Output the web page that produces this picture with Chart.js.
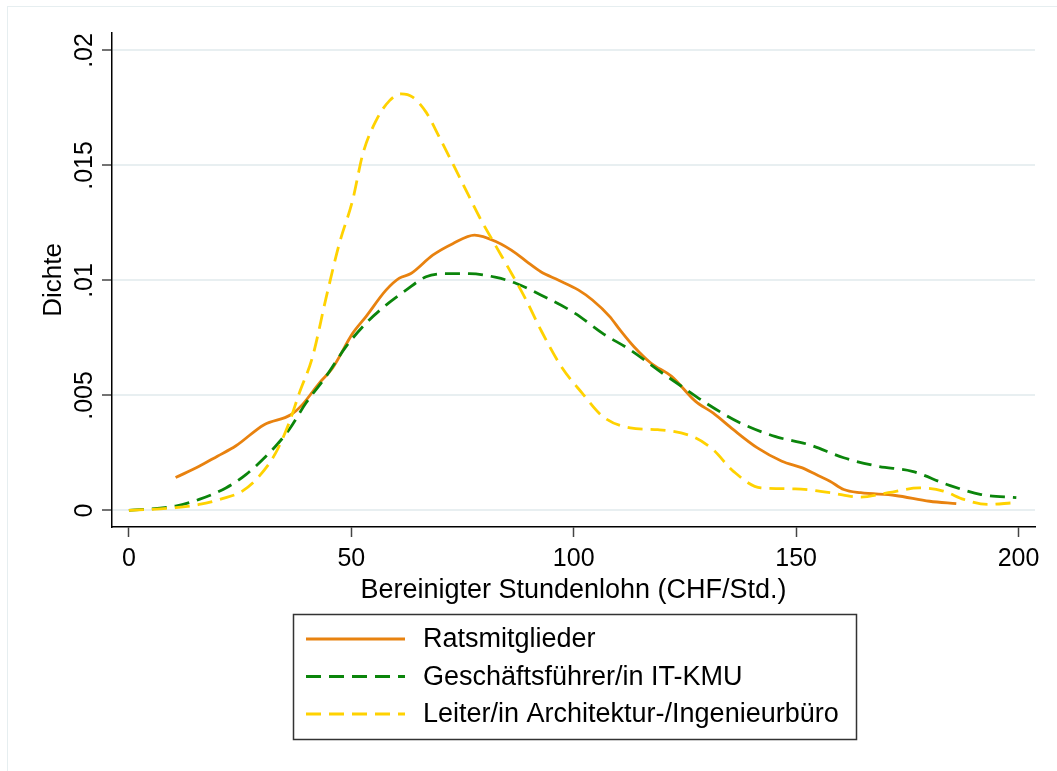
<!DOCTYPE html>
<html>
<head>
<meta charset="utf-8">
<script src="https://cdn.jsdelivr.net/npm/chart.js@4/dist/chart.umd.min.js"></script>
<style>
  html, body { margin: 0; padding: 0; background: #fff; }
  canvas { display: block; }
</style>
</head>
<body>
<canvas id="densityChart" width="1057" height="771"></canvas>
<script>
// Kernel density curves
const seriesNames = ['Ratsmitglieder', 'Geschäftsführer/in IT-KMU', 'Leiter/in Architektur-/Ingenieurbüro'];

const ratsX = [10.5, 15.8, 19.9, 24, 30.4, 36.4, 39, 42.8, 45.8, 50.3, 53.3, 57.8, 60.8, 63.4, 68.3, 72.8, 77.7, 82.6, 87.1, 89.5, 92.6, 96.5, 101.1, 104.2, 108.1, 110.4, 113.5, 117.4, 122, 127.4, 131.3, 135.9, 141.3, 146.8, 151.4, 154.5, 157.6, 160.7, 164.5, 172.3, 180, 186];
const ratsY = [0.00143, 0.00192, 0.00236, 0.0028, 0.00373, 0.00416, 0.0046, 0.00554, 0.0062, 0.0077, 0.00843, 0.00958, 0.0101, 0.0103, 0.0111, 0.0116, 0.01197, 0.01168, 0.01117, 0.01081, 0.01038, 0.01002, 0.00958, 0.00915, 0.00843, 0.00785, 0.00713, 0.0064, 0.00583, 0.00474, 0.00424, 0.00351, 0.00272, 0.00214, 0.00185, 0.00156, 0.00127, 0.00091, 0.00077, 0.00065, 0.0004, 0.0003];

const itX = [0, 10.5, 15.8, 21.8, 26.3, 32.3, 36, 39.8, 44.3, 48.8, 53.3, 57.8, 62.3, 66.8, 71.3, 76.6, 82.6, 87.1, 92.6, 100.3, 106.5, 112.7, 118.9, 124.3, 129.7, 137.5, 145.2, 152.9, 160.7, 168.4, 176.1, 183.9, 191.6, 199.5];
const itY = [0, 0.00019, 0.00048, 0.00098, 0.00156, 0.00265, 0.00351, 0.00467, 0.00582, 0.00712, 0.00814, 0.00893, 0.00958, 0.01016, 0.0103, 0.0103, 0.01013, 0.00987, 0.00937, 0.00857, 0.0077, 0.00698, 0.00611, 0.00539, 0.00467, 0.0038, 0.00322, 0.00286, 0.00229, 0.00192, 0.0017, 0.00113, 0.00069, 0.00056];

const archX = [0, 10.5, 15.8, 21, 25.5, 29.3, 33, 36, 38.3, 41.3, 44.3, 47.3, 50.3, 52.6, 55.6, 58.6, 61.2, 63.8, 66.8, 69.8, 72.8, 75.8, 78.8, 82.6, 85.6, 89.3, 92.6, 97.2, 101.9, 106.5, 112.7, 118.9, 126.6, 131.3, 135.9, 142.1, 149.8, 157.6, 164.5, 170.7, 177.7, 183.1, 187.7, 193.1, 198.6];
const archY = [0, 0.00012, 0.00026, 0.00051, 0.00084, 0.00149, 0.0025, 0.0038, 0.0051, 0.00669, 0.00922, 0.0116, 0.01349, 0.01551, 0.01696, 0.01782, 0.01811, 0.01797, 0.01732, 0.01623, 0.01508, 0.01392, 0.01276, 0.01146, 0.01045, 0.00915, 0.00785, 0.00626, 0.0051, 0.00409, 0.00359, 0.00351, 0.00322, 0.00265, 0.0017, 0.00098, 0.00094, 0.00077, 0.00058, 0.00077, 0.00098, 0.00084, 0.00048, 0.00026, 0.00033];

const xTicks = [0, 50, 100, 150, 200];
const yTicks = [0, 0.005, 0.01, 0.015, 0.02];
const yTickLabels = ['0', '.005', '.01', '.015', '.02'];

const FONT = "'Liberation Sans', Arial, sans-serif";
Chart.defaults.font.family = FONT;
Chart.defaults.color = '#000';

function toPoints(xs, ys) {
  return xs.map((x, i) => ({ x: x, y: ys[i] }));
}

// y tick labels are rotated and centred on the tick, legend is a framed box
const decorations = {
  id: 'decorations',
  beforeDraw(chart) {
    const ctx = chart.ctx;
    ctx.save();
    ctx.fillStyle = '#fff';
    ctx.fillRect(0, 0, chart.width, chart.height);
    ctx.strokeStyle = '#e6eef0';
    ctx.lineWidth = 1;
    ctx.strokeRect(7.5, 6.5, chart.width + 20, chart.height + 20);
    ctx.restore();
  },
  afterDraw(chart) {
    const ctx = chart.ctx;
    const yScale = chart.scales.y;
    ctx.save();
    ctx.fillStyle = '#000';
    ctx.font = '25px ' + FONT;
    ctx.textAlign = 'center';
    ctx.textBaseline = 'alphabetic';
    yTicks.forEach((v, i) => {
      ctx.save();
      ctx.translate(91.5, yScale.getPixelForValue(v));
      ctx.rotate(-Math.PI / 2);
      ctx.fillText(yTickLabels[i], 0, 0);
      ctx.restore();
    });

    // legend
    ctx.strokeStyle = '#333';
    ctx.lineWidth = 1.5;
    ctx.strokeRect(293.5, 614.5, 563, 125);
    ctx.font = '27px ' + FONT;
    ctx.textAlign = 'left';
    ctx.textBaseline = 'middle';
    chart.data.datasets.forEach((ds, i) => {
      const rowY = 639 + i * 37.5;
      ctx.beginPath();
      ctx.setLineDash(ds.borderDash || []);
      ctx.strokeStyle = ds.borderColor;
      ctx.lineWidth = ds.borderWidth;
      ctx.moveTo(306, rowY);
      ctx.lineTo(405, rowY);
      ctx.stroke();
      ctx.setLineDash([]);
      ctx.fillStyle = '#000';
      ctx.fillText(ds.label, 423, rowY + 1);
    });
    ctx.restore();
  }
};

new Chart(document.getElementById('densityChart'), {
  type: 'line',
  data: {
    datasets: [
      {
        label: seriesNames[0],
        data: toPoints(ratsX, ratsY),
        borderColor: '#e8820f',
        borderWidth: 2.8,
        order: 3
      },
      {
        label: seriesNames[1],
        data: toPoints(itX, itY),
        borderColor: '#0b850b',
        borderWidth: 2.8,
        borderDash: [15, 8],
        order: 2
      },
      {
        label: seriesNames[2],
        data: toPoints(archX, archY),
        borderColor: '#ffd200',
        borderWidth: 2.8,
        borderDash: [15, 8],
        order: 1
      }
    ]
  },
  options: {
    responsive: false,
    animation: false,
    devicePixelRatio: 1,
    layout: { padding: { left: 30, top: 33, right: 22, bottom: 154 } },
    elements: {
      point: { radius: 0 },
      line: { cubicInterpolationMode: 'monotone', fill: false }
    },
    plugins: {
      legend: { display: false },
      tooltip: { enabled: false }
    },
    scales: {
      x: {
        type: 'linear',
        min: -3.8,
        max: 203.7,
        afterBuildTicks: s => { s.ticks = xTicks.map(v => ({ value: v })); },
        afterFit: s => { s.height = 90; },
        ticks: { font: { size: 25 }, color: '#000', padding: 7, maxRotation: 0, autoSkip: false },
        grid: { drawOnChartArea: false, drawTicks: true, tickLength: 10, tickColor: '#444', tickWidth: 1.5 },
        border: { color: '#000', width: 1.5 },
        title: {
          display: true,
          text: 'Bereinigter Stundenlohn (CHF/Std.)',
          font: { size: 27 },
          color: '#000',
          padding: { top: 0, bottom: 10 }
        }
      },
      y: {
        min: -0.00072,
        max: 0.02076,
        afterBuildTicks: s => { s.ticks = yTicks.map(v => ({ value: v })); },
        afterFit: s => { s.width = 82; },
        ticks: { display: false },
        grid: { color: '#e8eff1', lineWidth: 2, drawTicks: true, tickLength: 10, tickColor: '#444', tickWidth: 1.5 },
        border: { color: '#000', width: 1.5 },
        title: {
          display: true,
          text: 'Dichte',
          font: { size: 26 },
          color: '#000',
          padding: { top: 8, bottom: 0 }
        }
      }
    }
  },
  plugins: [decorations]
});
</script>
</body>
</html>
